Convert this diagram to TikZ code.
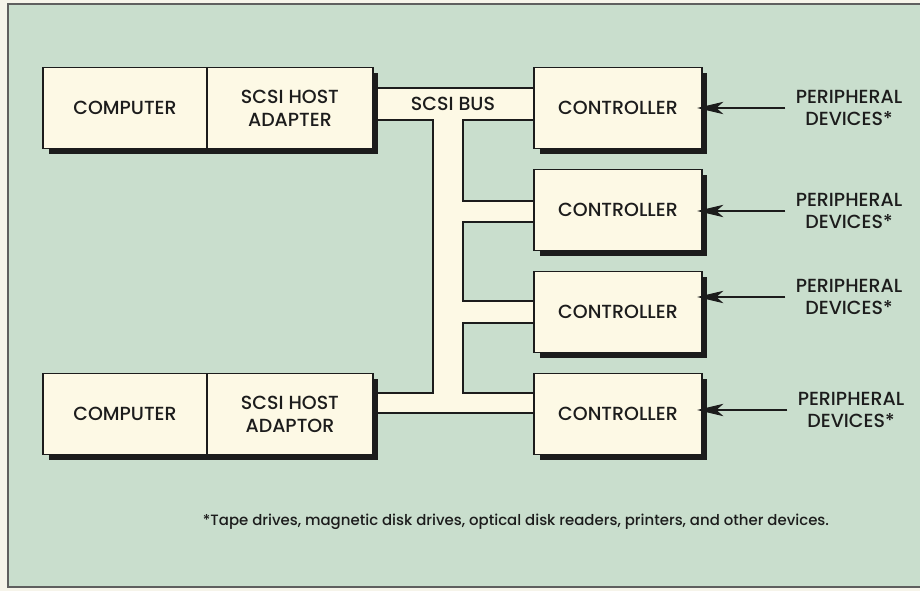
\documentclass[tikz,border=0pt]{standalone}
\usepackage{xcolor}
\usepackage{fontspec}
\setmainfont{Poppins Medium}
\usepackage{tikz}
\usetikzlibrary{positioning,shadows,arrows.meta}

\definecolor{bggreen}{RGB}{201,222,205}
\definecolor{paper}{RGB}{246,244,234}
\definecolor{boxcream}{RGB}{253,249,229}
\definecolor{ink}{RGB}{28,28,28}
\definecolor{rim}{RGB}{95,95,95}

\tikzset{
  unitbox/.style={draw=ink, line width=1.1pt, fill=boxcream, inner sep=0pt, outer sep=0pt,
    minimum height=1.62cm, align=center, text=ink, font=\fontsize{10.8}{13}\selectfont,
    drop shadow={shadow xshift=0.11cm, shadow yshift=-0.11cm, fill=ink, opacity=1}},
  periph/.style={align=center, text=ink, inner sep=0.2cm, font=\fontsize{10.8}{12.5}\selectfont},
  feed/.style={draw=ink, line width=1.3pt, -{Stealth[length=15pt, width=7pt, inset=4pt]}, shorten >=-0.1cm},
  busline/.style={draw=ink, line width=1pt, fill=boxcream, line join=miter}
}

\begin{document}
\begin{tikzpicture}[x=0.02cm, y=-0.02cm]
\useasboundingbox (0,0) rectangle (920,591);
\fill[paper] (0,0) rectangle (920,591);
\fill[bggreen] (8,4) rectangle (920,587);
\draw[rim, line width=0.8pt] (920,4) -- (8,4) -- (8,587) -- (920,587);

% the bus
\draw[busline] (373,88) -- (534,88) -- (534,120) -- (463,120) -- (463,201) -- (534,201)
  -- (534,222) -- (463,222) -- (463,301) -- (534,301) -- (534,323) -- (463,323)
  -- (463,393) -- (534,393) -- (534,413) -- (373,413) -- (373,393) -- (433,393)
  -- (433,120) -- (373,120) -- cycle;
\node[text=ink, font=\fontsize{10.8}{13}\selectfont] (bus) at (453,104) {SCSI BUS};

% hosts
\node[unitbox, minimum width=3.28cm] (comp1) at (125,108) {COMPUTER};
\node[unitbox, minimum width=3.32cm, right=0pt of comp1] (adap1) {SCSI HOST\\ADAPTER};
\node[unitbox, minimum width=3.28cm] (comp2) at (125,414) {COMPUTER};
\node[unitbox, minimum width=3.32cm, right=0pt of comp2] (adap2) {SCSI HOST\\ADAPTOR};

% controllers
\node[unitbox, minimum width=3.36cm] (ctrl1) at (618,108) {CONTROLLER};
\node[unitbox, minimum width=3.36cm] (ctrl2) at (618,210) {CONTROLLER};
\node[unitbox, minimum width=3.36cm] (ctrl3) at (618,312) {CONTROLLER};
\node[unitbox, minimum width=3.36cm] (ctrl4) at (618,414) {CONTROLLER};

\node[periph] (per1) at (849,108) {PERIPHERAL\\DEVICES*};
\node[periph] (per2) at (849,211) {PERIPHERAL\\DEVICES*};
\node[periph] (per3) at (849,297) {PERIPHERAL\\DEVICES*};
\node[periph] (per4) at (851,410) {PERIPHERAL\\DEVICES*};

\draw[feed] (per1.west) -- (per1.west -| ctrl1.east);
\draw[feed] (per2.west) -- (per2.west -| ctrl2.east);
\draw[feed] (per3.west) -- (per3.west -| ctrl3.east);
\draw[feed] (per4.west) -- (per4.west -| ctrl4.east);

\node[text=ink, font=\fontsize{8.5}{10}\selectfont] (note) at (516,522)
  {*Tape drives, magnetic disk drives, optical disk readers, printers, and other devices.};
\end{tikzpicture}
\end{document}
